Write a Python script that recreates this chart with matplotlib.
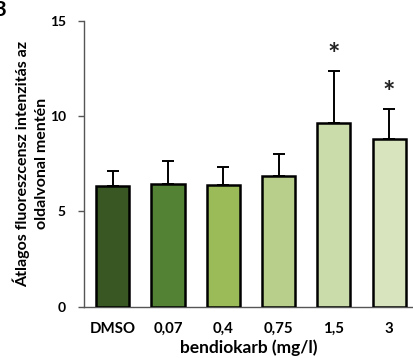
import matplotlib
matplotlib.use("Agg")
import matplotlib.pyplot as plt

categories = ["DMSO", "0,07", "0,4", "0,75", "1,5", "3"]
means = [6.32, 6.46, 6.37, 6.88, 9.63, 8.83]
errors = [0.82, 1.19, 0.97, 1.16, 2.76, 1.57]
significant = [False, False, False, False, True, True]
colors = ["#385723", "#548235", "#9bbb59", "#b7cf8a", "#cadcaa", "#d8e4bd"]
yticks = [0, 5, 10, 15]

plt.rcParams['font.family'] = ['Lato', 'DejaVu Sans']

fig = plt.figure(figsize=(4.14, 3.58), dpi=100)
ax = fig.add_axes([84/414, 51.3/358, 1 - 84/414, 285.7/358])

x = list(range(len(categories)))
ax.bar(x, means, width=0.6, color=colors, edgecolor="black", linewidth=1.8, zorder=3)
ax.errorbar(x, means, yerr=[[0]*len(errors), errors], fmt="none", ecolor="black",
            elinewidth=1.4, capsize=4, capthick=1.4, zorder=2)
for xi, m, e, s in zip(x, means, errors, significant):
    if s:
        ax.text(xi, m + e + 0.15, "*", ha="center", va="bottom", fontsize=21,
                fontweight="bold", color="#222222")

ax.set_xlim(-0.52, 5.45)
ax.set_ylim(0, 15)
ax.set_yticks(yticks)
ax.set_xticks(x)
ax.set_xticklabels(categories, fontsize=10.8, fontweight="bold")
ax.tick_params(axis="x", length=0, pad=11)
ax.tick_params(axis="y", length=4, width=1, labelsize=10, pad=9, color="#555555")
for lab in ax.get_yticklabels():
    lab.set_fontweight("bold")
for sp in ["top", "right"]:
    ax.spines[sp].set_visible(False)
for sp in ["left", "bottom"]:
    ax.spines[sp].set_color("#555555")
    ax.spines[sp].set_linewidth(1)

ax.set_xlabel("bendiokarb (mg/l)", fontsize=12.5, fontweight="bold", va="center")
ax.xaxis.set_label_coords(0.5, -41 / 285.7)
ax.set_ylabel("Átlagos fluoreszcensz intenzitás az\noldalvonal mentén", fontsize=11.5,
              fontweight="bold", linespacing=1.5, va="center", ha="center")
ax.yaxis.set_label_coords(-53 / 330, 0.5)

fig.text(-0.018, 1.0, "B", fontsize=15, fontweight="bold", ha="left", va="top")

fig.savefig("out.png", dpi=100)
